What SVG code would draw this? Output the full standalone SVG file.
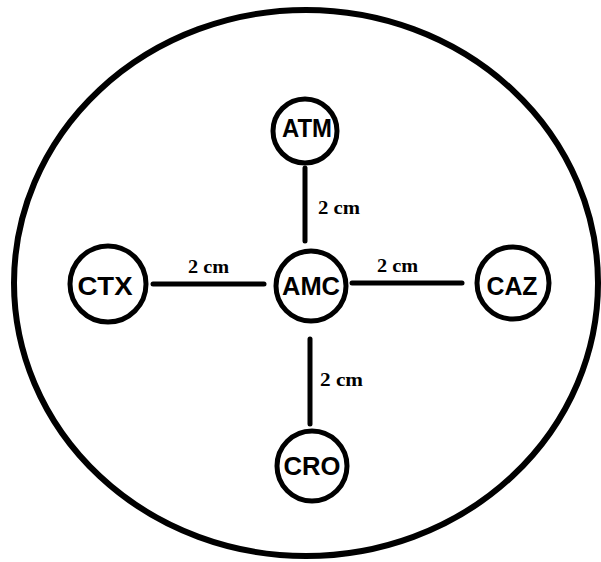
<svg xmlns="http://www.w3.org/2000/svg" width="601" height="562" viewBox="0 0 601 562">
<style>
.node{fill:#fff;stroke:#000;stroke-width:5}
.lbl{font-family:"Liberation Sans",Arial,sans-serif;font-weight:bold;font-size:25px;fill:#000;text-anchor:middle}
.dist{font-family:"Liberation Serif","Times New Roman",serif;font-weight:bold;font-size:18px;fill:#000}
.conn{stroke:#000;stroke-width:5;stroke-linecap:round}
</style>
<rect width="601" height="562" fill="#fff"/>
<ellipse cx="306" cy="283" rx="292" ry="273" fill="none" stroke="#000" stroke-width="6"/>
<g id="connectors">
<line class="conn" x1="305" y1="168" x2="305" y2="241"/>
<line class="conn" x1="153" y1="284" x2="264" y2="284"/>
<line class="conn" x1="352" y1="283" x2="462" y2="283"/>
<line class="conn" x1="310" y1="339" x2="310" y2="424"/>
<text class="dist" x="318" y="214" textLength="42" lengthAdjust="spacingAndGlyphs">2 cm</text>
<text class="dist" x="188" y="273" textLength="41" lengthAdjust="spacingAndGlyphs">2 cm</text>
<text class="dist" x="377" y="272" textLength="41" lengthAdjust="spacingAndGlyphs">2 cm</text>
<text class="dist" x="320" y="386" textLength="43" lengthAdjust="spacingAndGlyphs">2 cm</text>
</g>
<g id="ATM"><circle class="node" cx="305" cy="131" r="32"/><text class="lbl" x="307" y="137" textLength="50" lengthAdjust="spacingAndGlyphs">ATM</text></g>
<g id="AMC"><circle class="node" cx="311" cy="286" r="35"/><text class="lbl" x="311" y="295" textLength="58" lengthAdjust="spacingAndGlyphs">AMC</text></g>
<g id="CTX"><circle class="node" cx="108" cy="284" r="38"/><text class="lbl" x="105" y="295" textLength="55" lengthAdjust="spacingAndGlyphs">CTX</text></g>
<g id="CAZ"><circle class="node" cx="513" cy="283" r="36"/><text class="lbl" x="512" y="295" textLength="51" lengthAdjust="spacingAndGlyphs">CAZ</text></g>
<g id="CRO"><circle class="node" cx="312" cy="466" r="35"/><text class="lbl" x="312" y="475" textLength="57" lengthAdjust="spacingAndGlyphs">CRO</text></g>
</svg>
